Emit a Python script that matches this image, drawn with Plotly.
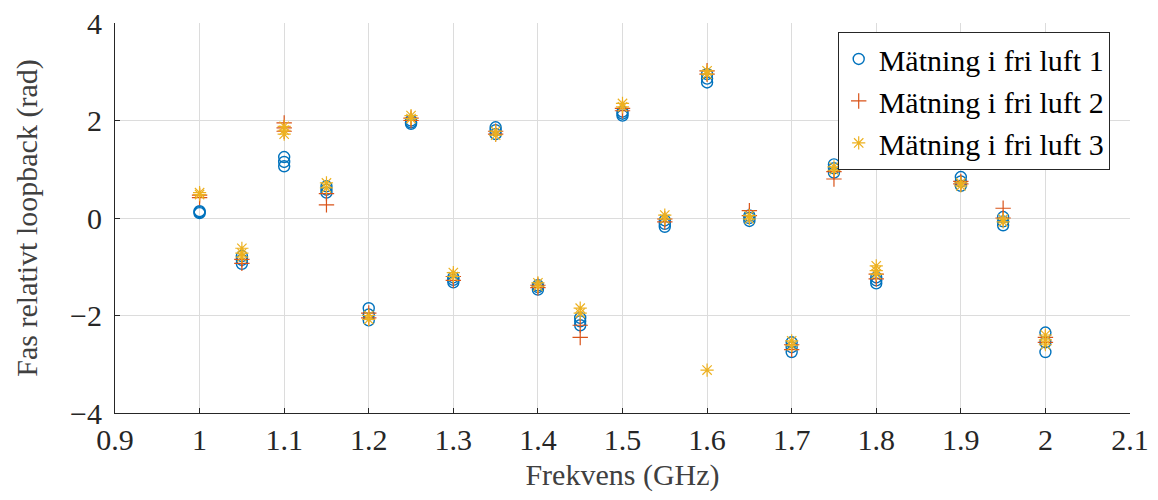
import plotly.graph_objects as go

freq = [1.0, 1.05, 1.1, 1.15, 1.2, 1.25, 1.3, 1.35, 1.4, 1.45,
        1.5, 1.55, 1.6, 1.65, 1.7, 1.75, 1.8, 1.9, 1.95, 2.0]

# Mätning i fri luft 1 (several repeated readings per frequency)
m1 = [[0.10, 0.12, 0.14], [-0.78, -0.86, -0.94], [1.25, 1.15, 1.06], [0.65, 0.58, 0.52],
      [-1.85, -1.98, -2.10], [2.00, 1.96, 1.93], [-1.22, -1.27, -1.32], [1.86, 1.80, 1.72],
      [-1.38, -1.42, -1.47], [-2.05, -2.12, -2.20], [2.18, 2.14, 2.10], [-0.05, -0.12, -0.18],
      [2.95, 2.86, 2.78], [0.05, 0.00, -0.06], [-2.55, -2.65, -2.75], [1.10, 1.02, 0.93],
      [-1.22, -1.28, -1.34], [0.84, 0.75, 0.66], [0.02, -0.07, -0.15], [-2.35, -2.55, -2.75]]

# Mätning i fri luft 2
m2 = [[0.42, 0.47], [-0.85, -0.93], [1.95, 1.85, 1.78], [0.50, 0.27],
      [-1.95, -2.05], [2.05, 2.00], [-1.20, -1.28], [1.72, 1.78],
      [-1.38, -1.43], [-2.20, -2.45], [2.25, 2.20], [-0.02, -0.08],
      [2.95, 3.02], [0.15, 0.05], [-2.60, -2.70], [0.95, 0.80],
      [-1.15, -1.25], [0.75, 0.70], [0.20, 0.00], [-2.45, -2.55]]

# Mätning i fri luft 3
m3 = [[0.48, 0.52], [-0.62, -0.72, -0.80], [1.88, 1.80, 1.72], [0.72, 0.62],
      [-2.00, -2.08], [2.10, 2.04], [-1.12, -1.20], [1.70, 1.78],
      [-1.33, -1.40], [-1.85, -1.95], [2.35, 2.28], [0.06, -0.02],
      [3.02, 2.95, -3.12], [0.05, -0.02], [-2.52, -2.62], [1.05, 0.98],
      [-0.98, -1.08, -1.15], [0.72, 0.66], [-0.02, -0.08], [-2.40, -2.50, -2.60]]

series_names = ["Mätning i fri luft 1", "Mätning i fri luft 2", "Mätning i fri luft 3"]

x_ticks = [0.9, 1.0, 1.1, 1.2, 1.3, 1.4, 1.5, 1.6, 1.7, 1.8, 1.9, 2.0, 2.1]
x_tick_labels = ["0.9", "1", "1.1", "1.2", "1.3", "1.4", "1.5", "1.6", "1.7", "1.8", "1.9", "2", "2.1"]
y_ticks = [-4, -2, 0, 2, 4]
y_tick_labels = ["\u22124", "\u22122", "0", "2", "4"]


def flatten(groups):
    xs, ys = [], []
    for f, vals in zip(freq, groups):
        for v in vals:
            xs.append(f)
            ys.append(v)
    return xs, ys


styles = [
    dict(symbol="circle-open", color="#0072BD", size=11, width=1.4),
    dict(symbol="cross-thin-open", color="#D95319", size=11, width=1.2),
    dict(symbol="asterisk-open", color="#EDB120", size=11, width=1.2),
]

FONT = "Liberation Serif"
fig = go.Figure()
for name, data, st in zip(series_names, [m1, m2, m3], styles):
    xs, ys = flatten(data)
    fig.add_trace(go.Scatter(
        x=xs, y=ys, mode="markers", name=name,
        marker=dict(symbol=st["symbol"], size=st["size"], color=st["color"],
                    line=dict(width=st["width"], color=st["color"])),
    ))

axis_common = dict(
    showgrid=True, gridcolor="#dcdcdc", gridwidth=1,
    showline=True, linecolor="#262626", linewidth=1, mirror=False,
    ticks="inside", ticklen=5, tickcolor="#262626", tickwidth=1,
    zeroline=False, automargin=False, ticklabeloverflow="allow",
    tickfont=dict(family=FONT, size=30, color="#262626"),
)

# page body adds an 8px offset, so the figure is 8px smaller and margins shifted
fig.update_layout(
    width=1150, height=492,
    margin=dict(l=107, r=28, t=15, b=87),
    paper_bgcolor="white", plot_bgcolor="white",
    font=dict(family=FONT, size=30, color="#262626"),
    xaxis=dict(range=[0.9, 2.1], tickvals=x_ticks, ticktext=x_tick_labels,
               ticklabelstandoff=0,
               title=dict(text="Frekvens (GHz)", standoff=8,
                          font=dict(family=FONT, size=30, color="#404040")),
               **axis_common),
    yaxis=dict(range=[-4, 4], tickvals=y_ticks, ticktext=y_tick_labels,
               ticklabelstandoff=6,
               title=dict(text="Fas relativt loopback (rad)", standoff=23,
                          font=dict(family=FONT, size=30, color="#404040")),
               **axis_common),
    legend=dict(x=0.98, y=0.977, xanchor="right", yanchor="top",
                bgcolor="white", bordercolor="#262626", borderwidth=1,
                font=dict(family=FONT, size=30, color="#000000"),
                itemwidth=30, tracegroupgap=0),
    showlegend=True,
)

fig.write_html("out.html")
